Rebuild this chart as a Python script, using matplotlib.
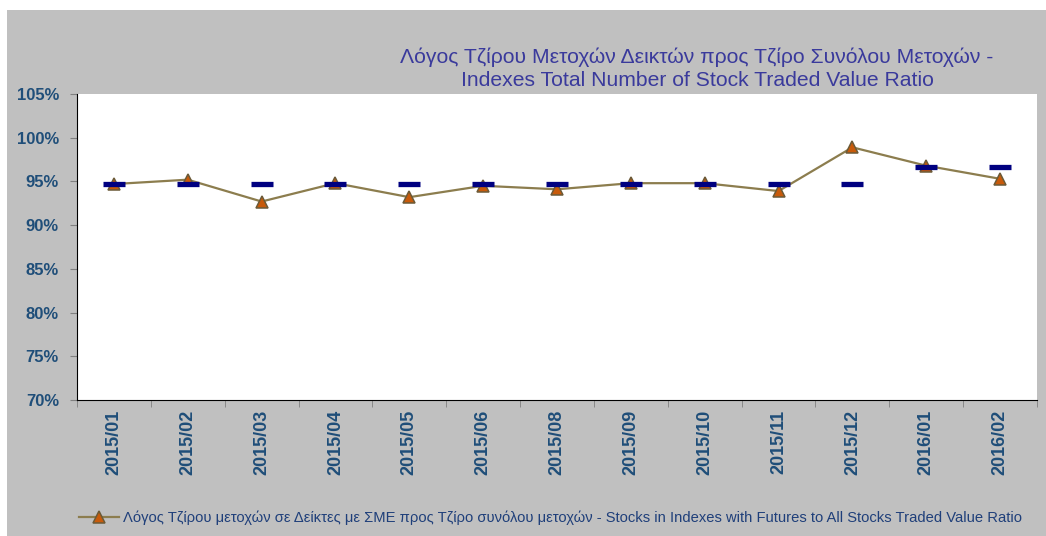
import matplotlib
matplotlib.use("Agg")
import matplotlib.pyplot as plt
from matplotlib.patches import Rectangle
from matplotlib.ticker import FuncFormatter, FixedLocator

# data
months = ["2015/01", "2015/02", "2015/03", "2015/04", "2015/05", "2015/06", "2015/08",
          "2015/09", "2015/10", "2015/11", "2015/12", "2016/01", "2016/02"]
ratio = [94.7, 95.2, 92.7, 94.8, 93.2, 94.5, 94.1, 94.8, 94.8, 93.9, 98.9, 96.8, 95.3]
level = [94.7, 94.7, 94.7, 94.7, 94.7, 94.7, 94.7, 94.7, 94.7, 94.7, 94.7, 96.7, 96.7]

title = ("Λόγος Τζίρου Μετοχών Δεικτών προς Τζίρο Συνόλου Μετοχών -\n"
         "Indexes Total Number of Stock Traded Value Ratio")
legend_label = ("Λόγος Τζίρου μετοχών σε Δείκτες με ΣΜΕ προς Τζίρο συνόλου μετοχών - "
                "Stocks in Indexes with Futures to All Stocks Traded Value Ratio")

plt.rcParams["font.family"] = ["Liberation Sans", "DejaVu Sans"]

W, H = 1046, 536
fig = plt.figure(figsize=(W / 100, H / 100), dpi=100)
fig.patch.set_facecolor("white")
fig.patches.append(Rectangle((7 / W, 0), 1 - 7 / W, 526 / H, transform=fig.transFigure,
                             facecolor="#c0c0c0", edgecolor="none", zorder=-5))

ax = fig.add_axes([77 / W, 1 - 400 / H, (1037 - 77) / W, (400 - 94) / H])
ax.set_facecolor("white")

x = list(range(len(months)))
ax.plot(x, ratio, color="#8c7d4e", lw=1.6, marker="^", markersize=8.5,
        markerfacecolor="#c85a0a", markeredgecolor="#6b5a38", markeredgewidth=1.1,
        label=legend_label, zorder=3)
ax.plot(x, level, ls="none", marker="_", markersize=16.5, markeredgewidth=3.8,
        color="#000080", zorder=4)

ax.set_xlim(-0.5, len(months) - 0.5)
ax.set_ylim(70, 105)
ax.set_yticks([70, 75, 80, 85, 90, 95, 100, 105])
ax.yaxis.set_major_formatter(FuncFormatter(lambda v, p: f"{v:.0f}%"))

ax.set_xticks(x)
ax.set_xticklabels(months, rotation=90)
ax.xaxis.set_minor_locator(FixedLocator([i - 0.5 for i in range(len(months) + 1)]))
ax.tick_params(axis="x", which="major", length=0, pad=7)
ax.tick_params(axis="x", which="minor", length=5, color="#808080", direction="out")
ax.tick_params(axis="y", length=5, color="#808080", pad=8)
for lab in ax.get_xticklabels():
    lab.set_fontweight("bold")
    lab.set_fontsize(13)
    lab.set_color("#1f4e79")
for lab in ax.get_yticklabels():
    lab.set_fontweight("bold")
    lab.set_fontsize(12)
    lab.set_color("#1f4e79")

ax.spines["top"].set_visible(False)
ax.spines["right"].set_visible(False)
ax.spines["left"].set_color("black")
ax.spines["bottom"].set_color("black")

fig.text(697 / W, 1 - 69 / H, title, ha="center", va="center", fontsize=15.2,
         color="#3a3a9c", linespacing=1.25)

fig.legend(loc="center left", bbox_to_anchor=(66 / W, 1 - 518 / H), frameon=False,
           handlelength=2.7, handletextpad=0.3, prop={"size": 10.6},
           labelcolor="#1f3f7a")

fig.savefig("out.png", dpi=100, facecolor=fig.get_facecolor())
